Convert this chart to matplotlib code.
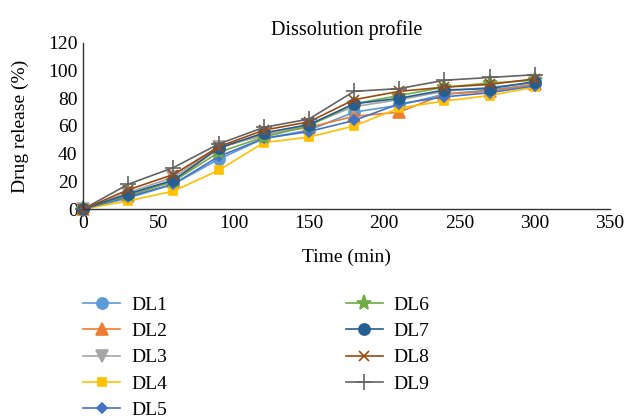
import matplotlib
matplotlib.use("Agg")
import matplotlib.pyplot as plt

plt.rcParams['font.family'] = ['Liberation Serif', 'DejaVu Serif']

time_min = [0, 30, 60, 90, 120, 150, 180, 210, 240, 270, 300]

dl1 = [0, 8, 18, 36, 51, 57, 70, 75, 83, 86, 90]
dl2 = [0, 10, 20, 44, 54, 59, 67, 70, 83, 85, 90]
dl3 = [0, 12, 23, 45, 53, 61, 74, 79, 85, 88, 91]
dl4 = [0, 6, 13, 28, 48, 52, 60, 73, 78, 82, 88]
dl5 = [0, 9, 18, 38, 51, 56, 64, 76, 81, 84, 89]
dl6 = [0, 10, 20, 41, 52, 60, 76, 82, 88, 91, 93]
dl7 = [0, 11, 21, 44, 55, 61, 76, 80, 86, 87, 92]
dl8 = [0, 14, 25, 45, 57, 63, 79, 85, 88, 90, 94]
dl9 = [0, 18, 30, 47, 59, 65, 85, 87, 93, 95, 97]

labels = ['DL1', 'DL2', 'DL3', 'DL4', 'DL5', 'DL6', 'DL7', 'DL8', 'DL9']
series = [dl1, dl2, dl3, dl4, dl5, dl6, dl7, dl8, dl9]
colors = ['#5B9BD5', '#ED7D31', '#A5A5A5', '#FFC000', '#4472C4',
          '#70AD47', '#255E91', '#9E480E', '#636363']
markers = ['o', '^', 'v', 's', 'D', '*', 'o', 'x', '+']
msizes = [8, 8, 8, 6, 5, 11, 8, 7, 11]

fig = plt.figure(figsize=(6.25, 4.2), dpi=100)
ax = fig.add_axes([0.133, 0.502, 0.843, 0.396])

for y, lab, c, m, ms in zip(series, labels, colors, markers, msizes):
    ax.plot(time_min, y, color=c, marker=m, markersize=ms, linewidth=1.2,
            markeredgewidth=1.2, label=lab, clip_on=False)

ax.set_xlim(0, 350)
ax.set_ylim(0, 120)
ax.set_xticks(range(0, 351, 50))
ax.set_yticks(range(0, 121, 20))
ax.tick_params(length=0, labelsize=14, pad=4)
for s in ['top', 'right']:
    ax.spines[s].set_visible(False)
for s in ['left', 'bottom']:
    ax.spines[s].set_color('#333333')
    ax.spines[s].set_linewidth(1.0)

ax.set_title('Dissolution profile', fontsize=14.5, pad=6)
ax.set_xlabel('Time (min)', fontsize=14, labelpad=12)
ax.set_ylabel('Drug release (%)', fontsize=14, labelpad=14)

fig.legend(loc='upper left', bbox_to_anchor=(0.118, 0.318), ncol=2,
           frameon=False, fontsize=14, handlelength=1.9, handletextpad=0.55,
           columnspacing=9.2, labelspacing=0.45, borderpad=0)

fig.savefig('out.png', dpi=100)
